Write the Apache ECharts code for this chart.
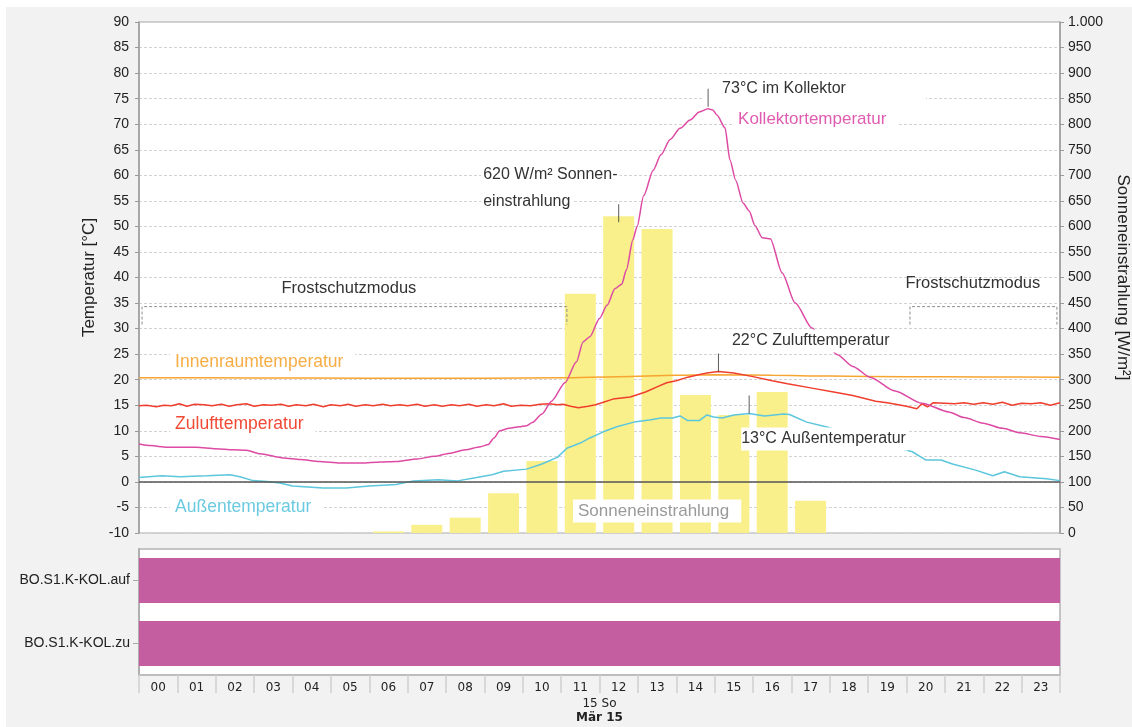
<!DOCTYPE html>
<html>
<head>
<meta charset="utf-8">
<title>Kollektor – Tagesverlauf</title>
<script src="https://cdn.jsdelivr.net/npm/echarts/dist/echarts.min.js"></script>
<style>
  html, body { margin: 0; padding: 0; background: #fff; width: 1132px; height: 727px; overflow: hidden; }
  #panel { position: absolute; left: 6px; top: 7px; right: 0; bottom: 0; background: #f2f2f2; }
  #chart { position: absolute; left: 0; top: 0; width: 1132px; height: 727px; }
</style>
</head>
<body>
<div id="panel"></div>
<div id="chart"></div>
<script>
// ---- data ---------------------------------------------------------------
const hours = ['00','01','02','03','04','05','06','07','08','09','10','11',
               '12','13','14','15','16','17','18','19','20','21','22','23'];

// hourly solar irradiance [W/m²]
const irradiance = [0, 0, 0, 0, 0, 0, 3, 16, 30, 78, 141, 468,
                    620, 595, 270, 231, 276, 63, 0, 0, 0, 0, 0, 0];

// [hour, °C]
const kollektor = [
  [0,7.4],[0.3,7.1],[0.73,6.8],[1.25,6.8],[1.5,6.8],[2.0,6.5],[2.45,6.3],[2.8,6.2],[3.15,5.5],
  [3.76,4.7],[4.2,4.4],[4.7,4.0],[5.24,3.7],[5.8,3.7],[6.3,3.9],[6.7,4.0],[7.25,4.5],[7.7,5.0],
  [8.1,5.6],[8.5,6.3],[8.9,6.9],[9.1,7.3],[9.25,8.6],[9.4,10.0],[9.65,10.5],[9.9,10.8],[10.1,11.0],
  [10.25,11.6],[10.5,13.3],[10.75,15.8],[11.1,19.4],[11.4,23.5],[11.57,27.4],[11.75,28.4],[12.0,32.0],
  [12.2,34.6],[12.4,37.8],[12.58,38.7],[12.7,41.5],[12.87,47.4],[12.98,50.0],[13.15,56.0],[13.4,61.0],
  [13.6,64.0],[13.84,67.0],[14.1,69.2],[14.36,70.8],[14.6,72.4],[14.83,73.0],[14.95,72.8],[15.06,71.8],
  [15.27,69.3],[15.4,63.0],[15.55,59.0],[15.74,54.6],[15.9,53.0],[16.05,50.2],[16.24,47.8],[16.45,47.6],
  [16.76,40.9],[17.1,35.0],[17.54,30.1],[17.85,27.2],[18.2,24.9],[18.6,22.6],[19.05,20.5],[19.7,17.8],
  [20.4,15.4],[21.1,13.7],[21.5,12.6],[22.0,11.5],[22.5,10.5],[22.96,9.6],[23.5,8.9],[24,8.3]
];

const innenraum = [
  [0,20.4],[3,20.35],[6,20.3],[9,20.3],[11,20.4],[12.5,20.6],[14,20.85],[15,20.95],
  [16.5,20.85],[18,20.7],[20,20.6],[22,20.55],[24,20.5]
];

const zuluft = [
  [0,14.9],[0.2,15.0],[0.45,14.7],[0.65,15.0],[0.85,14.9],[1.05,15.3],[1.25,14.8],[1.45,15.2],
  [1.7,15.1],[1.9,14.9],[2.15,15.2],[2.35,14.8],[2.55,15.1],[2.8,15.3],[3.0,14.8],[3.25,15.1],
  [3.45,15.0],[3.7,15.2],[3.9,14.8],[4.1,15.1],[4.35,14.9],[4.55,15.2],[4.8,14.7],[5.0,15.1],
  [5.25,14.9],[5.45,15.2],[5.65,14.8],[5.9,15.1],[6.1,14.9],[6.35,15.2],[6.55,14.9],[6.8,15.1],
  [7.0,14.9],[7.25,15.2],[7.45,14.8],[7.7,15.1],[7.9,14.8],[8.15,15.1],[8.35,14.9],[8.6,15.2],
  [8.8,14.8],[9.05,15.1],[9.25,14.9],[9.5,15.3],[9.7,14.8],[9.95,15.0],[10.2,14.9],[10.45,15.2],
  [10.7,15.3],[10.9,15.1],[11.05,15.2],[11.25,14.8],[11.45,14.5],[11.7,14.8],[11.9,15.1],[12.1,15.6],
  [12.35,16.2],[12.8,16.6],[13.2,17.6],[13.5,18.6],[13.75,19.4],[14.0,19.8],[14.3,20.5],[14.55,20.9],
  [14.8,21.3],[15.1,21.6],[15.5,21.3],[16.0,20.6],[16.5,19.8],[16.9,19.2],[17.5,18.4],[18.1,17.6],
  [18.6,16.9],[19.2,15.8],[19.5,15.5],[20.0,14.8],[20.27,14.3],[20.4,15.3],[20.55,14.7],[20.7,15.5],
  [21.0,15.4],[21.25,15.3],[21.5,15.5],[21.75,15.2],[22.0,15.5],[22.25,15.2],[22.5,15.6],[22.75,15.0],
  [23.0,15.4],[23.25,15.3],[23.5,15.5],[23.75,15.0],[24,15.5]
];

const aussen = [
  [0,0.85],[0.6,1.2],[1.07,1.0],[1.77,1.2],[2.37,1.4],[2.63,1.0],[2.97,0.25],[3.33,0.1],[3.67,-0.2],
  [4.0,-0.8],[4.8,-1.2],[5.4,-1.2],[6.0,-0.8],[6.7,-0.5],[7.15,0.2],[7.8,0.4],[8.3,0.2],[8.8,0.85],
  [9.2,1.4],[9.5,2.1],[10.1,2.5],[10.5,3.5],[10.9,4.8],[11.15,6.6],[11.5,7.6],[11.75,8.6],[12.1,9.8],
  [12.45,10.8],[12.9,11.7],[13.3,12.1],[13.6,12.5],[13.9,12.5],[14.1,12.9],[14.3,12.0],[14.6,12.0],
  [14.8,13.1],[14.97,12.7],[15.2,12.5],[15.5,13.1],[15.9,13.4],[16.3,12.9],[16.8,13.3],[16.95,13.2],
  [17.4,11.7],[17.9,10.8],[18.5,9.5],[19.0,8.3],[19.6,7.0],[20.15,5.9],[20.5,4.3],[20.9,4.3],
  [21.2,3.5],[21.8,2.3],[22.25,1.2],[22.55,2.0],[22.95,1.0],[23.65,0.6],[24,0.25]
];

// frost protection mode periods [from hour, to hour]
const frostPeriods = [[0.08, 11.15], [20.09, 23.92]];

// switching states of the collector valve
const stateRows = ['BO.S1.K-KOL.auf', 'BO.S1.K-KOL.zu'];
const stateEnd = [24, 24];

const dayLabel = '15 So';
const monthLabel = 'Mär 15';

// ---- helpers ------------------------------------------------------------
const FONT = '"Liberation Sans", Arial, Helvetica, sans-serif';
const TICK_FONT = '"DejaVu Sans", Verdana, sans-serif';
const COL = {
  sun: '#f9f08b', orange: '#f6a531', red: '#ef3e2d', cyan: '#5cc6dc',
  magenta: '#dd4aa4', state: '#c55ea1', frost: '#8c8c8c'
};

const peakOf = s => s.reduce((a, b) => (b[1] > a[1] ? b : a));
const kollPeak = peakOf(kollektor);
const zuPeak = peakOf(zuluft);
const ausPeak = peakOf(aussen);
const sunIdx = irradiance.indexOf(Math.max(...irradiance));
const sunPeak = [sunIdx + 0.5, irradiance[sunIdx]];

function note(coord, text, dx, dy, extra) {
  return {
    coord: coord, symbol: 'circle', symbolSize: 1,
    itemStyle: { color: 'rgba(0,0,0,0)', borderWidth: 0 },
    label: Object.assign({
      show: true, position: 'inside', offset: [dx, dy], align: 'left', verticalAlign: 'middle',
      formatter: text, fontFamily: FONT, fontSize: 16, color: '#333',
      backgroundColor: '#fff', padding: [3, 4, 4, 2]
    }, extra || {})
  };
}
function seriesName(coord, text, color, size) {
  return note(coord, text, 0, 0, { color: color, fontSize: size || 17.5, padding: [3, 12, 3, 5] });
}

// ---- chart --------------------------------------------------------------
const chart = echarts.init(document.getElementById('chart'), null, { renderer: 'canvas' });

const frostSeries = frostPeriods.map(p => ({
  type: 'line', xAxisIndex: 0, yAxisIndex: 0, silent: true, symbol: 'none', z: 3,
  lineStyle: { color: COL.frost, width: 1, type: [3, 2] },
  data: [[p[0], 30.8], [p[0], 34.3], [p[1], 34.3], [p[1], 30.8]]
}));

const option = {
  animation: false,
  textStyle: { fontFamily: FONT },
  grid: [
    { left: 139, right: 72, top: 22, height: 511, show: true, backgroundColor: '#fff',
      borderColor: '#a8a8a8', borderWidth: 1, containLabel: false, outerBoundsMode: 'none' },
    { left: 139, right: 72, top: 549, height: 126, show: true, backgroundColor: '#fff',
      borderColor: '#c4c4c4', borderWidth: 2, containLabel: false, outerBoundsMode: 'none' }
  ],
  xAxis: [
    { gridIndex: 0, type: 'value', min: 0, max: 24, show: false },
    { gridIndex: 1, type: 'value', min: 0, max: 24, show: false },
    { gridIndex: 1, type: 'category', data: hours, position: 'bottom', boundaryGap: true,
      axisLine: { show: true, lineStyle: { color: '#bdbdbd', width: 2 } },
      axisTick: { show: true, interval: 0, length: 18, lineStyle: { color: '#d0d0d0', width: 1.5 } },
      axisLabel: { interval: 0, margin: 7, fontFamily: TICK_FONT, fontSize: 12, color: '#222' },
      name: dayLabel + '\n{b|' + monthLabel + '}', nameLocation: 'middle', nameGap: 22,
      nameTextStyle: { fontFamily: TICK_FONT, fontSize: 12, color: '#222', lineHeight: 14,
        rich: { b: { fontFamily: TICK_FONT, fontSize: 12, fontWeight: 'bold', color: '#222', lineHeight: 14 } } }
    }
  ],
  yAxis: [
    { gridIndex: 0, type: 'value', min: -10, max: 90, interval: 5, position: 'left',
      name: 'Temperatur [°C]', nameLocation: 'middle', nameRotate: 90, nameGap: 39,
      nameTextStyle: { fontSize: 17, color: '#222', fontFamily: FONT },
      axisLine: { show: true, lineStyle: { color: '#9a9a9a', width: 1.5 } },
      axisTick: { show: true, length: 4, lineStyle: { color: '#9a9a9a' } },
      axisLabel: { fontSize: 14, color: '#222', margin: 10, fontFamily: FONT },
      splitLine: { show: true, lineStyle: { color: '#d2d2d2', type: [3, 2] } }
    },
    { gridIndex: 0, type: 'value', min: 0, max: 1000, interval: 50, position: 'right',
      name: 'Sonneneinstrahlung [W/m²]', nameLocation: 'middle', nameRotate: -90, nameGap: 53,
      nameTextStyle: { fontSize: 17, color: '#222', fontFamily: FONT },
      axisLine: { show: true, lineStyle: { color: '#9a9a9a', width: 1.5 } },
      axisTick: { show: true, length: 4, lineStyle: { color: '#9a9a9a' } },
      axisLabel: { fontSize: 14, color: '#222', margin: 8, fontFamily: FONT,
        formatter: v => String(v).replace(/\B(?=(\d{3})+(?!\d))/g, '.') },
      splitLine: { show: false }
    },
    { gridIndex: 1, type: 'category', data: stateRows, inverse: true,
      axisLine: { show: true, lineStyle: { color: '#a8a8a8', width: 1.5 } },
      axisTick: { show: true, alignWithLabel: true, length: 6, lineStyle: { color: '#a8a8a8' } },
      axisLabel: { fontSize: 14, color: '#222', margin: 9, fontFamily: FONT },
      splitLine: { show: false }
    }
  ],
  series: [
    { name: 'Sonneneinstrahlung', type: 'bar', xAxisIndex: 0, yAxisIndex: 1, barWidth: 31, silent: true,
      data: irradiance.map((v, i) => [i + 0.5, v]),
      itemStyle: { color: COL.sun },
      markPoint: { silent: true, data: [
        note(sunPeak, '{a|' + sunPeak[1] + ' W/m² Sonnen-}\n{a|einstrahlung}', -137.5, -28, {
          backgroundColor: 'transparent', padding: 0,
          rich: { a: { fontFamily: FONT, fontSize: 16, color: '#333', backgroundColor: '#fff',
                       lineHeight: 27, padding: [0, 2, 0, 2] } }
        }),
        seriesName([11.31, 43], 'Sonneneinstrahlung', '#9a9a9a', 17)
      ] }
    },
    { name: 'Innenraumtemperatur', type: 'line', xAxisIndex: 0, yAxisIndex: 0, silent: true,
      data: innenraum, showSymbol: false, smooth: 0.3, smoothMonotone: 'x',
      lineStyle: { color: COL.orange, width: 1.5 }, itemStyle: { color: COL.orange },
      markPoint: { silent: true, data: [ seriesName([0.81, 23.48], 'Innenraumtemperatur', '#f7ad45') ] }
    },
    { name: 'Zulufttemperatur', type: 'line', xAxisIndex: 0, yAxisIndex: 0, silent: true,
      data: zuluft, showSymbol: false,
      lineStyle: { color: COL.red, width: 1.5 }, itemStyle: { color: COL.red },
      markPoint: { silent: true, data: [
        note(zuPeak, Math.round(zuPeak[1]) + '°C Zulufttemperatur', 11.5, -30.6),
        seriesName([0.81, 11.25], 'Zulufttemperatur', '#f04a35')
      ] }
    },
    { name: 'Außentemperatur', type: 'line', xAxisIndex: 0, yAxisIndex: 0, silent: true,
      data: aussen, showSymbol: false,
      lineStyle: { color: COL.cyan, width: 1.5 }, itemStyle: { color: COL.cyan },
      markLine: { silent: true, symbol: 'none', label: { show: false },
        lineStyle: { color: '#555', width: 1.5, type: 'solid' }, data: [{ yAxis: 0 }] },
      markPoint: { silent: true, data: [
        note(ausPeak, Math.round(ausPeak[1]) + '°C Außentemperatur', -8, 25.5, { padding: [3, 2, 4, 0] }),
        seriesName([0.81, -4.89], 'Außentemperatur', '#6ccae0')
      ] }
    },
    { name: 'Kollektortemperatur', type: 'line', xAxisIndex: 0, yAxisIndex: 0, silent: true,
      data: kollektor, showSymbol: false, smooth: 0.25, smoothMonotone: 'x',
      lineStyle: { color: COL.magenta, width: 1.5 }, itemStyle: { color: COL.magenta },
      markPoint: { silent: true, data: [
        note(kollPeak, Math.round(kollPeak[1]) + '°C im Kollektor', -4, -20, { padding: [0, 80, 8, 18] }),
        seriesName([15.48, 71.04], 'Kollektortemperatur', '#e05cb0', 17)
      ] }
    },
    ...frostSeries,
    { name: 'Frostschutzmodus', type: 'line', xAxisIndex: 0, yAxisIndex: 0, silent: true,
      data: [], showSymbol: false,
      markPoint: { silent: true, data: [
        note([5.47, 37.8], 'Frostschutzmodus', 0, 0, { align: 'center', fontSize: 16.5, backgroundColor: 'transparent', padding: 0 }),
        note([21.73, 38.9], 'Frostschutzmodus', 0, 0, { align: 'center', fontSize: 16.5, backgroundColor: 'transparent', padding: 0 })
      ] }
    },
    // short leader ticks above the annotated peaks
    { name: 'peakTicks', type: 'scatter', xAxisIndex: 0, yAxisIndex: 0, silent: true, z: 10,
      symbol: 'rect', itemStyle: { color: '#333' },
      data: [
        { value: kollPeak, symbolSize: [1, 18], symbolOffset: [0, -11] },
        { value: zuPeak, symbolSize: [1, 18], symbolOffset: [0, -9] },
        { value: ausPeak, symbolSize: [1, 18], symbolOffset: [0, -9] }
      ]
    },
    { name: 'sunTick', type: 'scatter', xAxisIndex: 0, yAxisIndex: 1, silent: true, z: 10,
      symbol: 'rect', itemStyle: { color: '#333' },
      data: [ { value: sunPeak, symbolSize: [1, 18], symbolOffset: [0, -3] } ]
    },
    { name: 'Schaltzustand', type: 'bar', xAxisIndex: 1, yAxisIndex: 2, barWidth: 45, silent: true,
      data: stateEnd, itemStyle: { color: COL.state }
    }
  ]
};

chart.setOption(option);
</script>
</body>
</html>
